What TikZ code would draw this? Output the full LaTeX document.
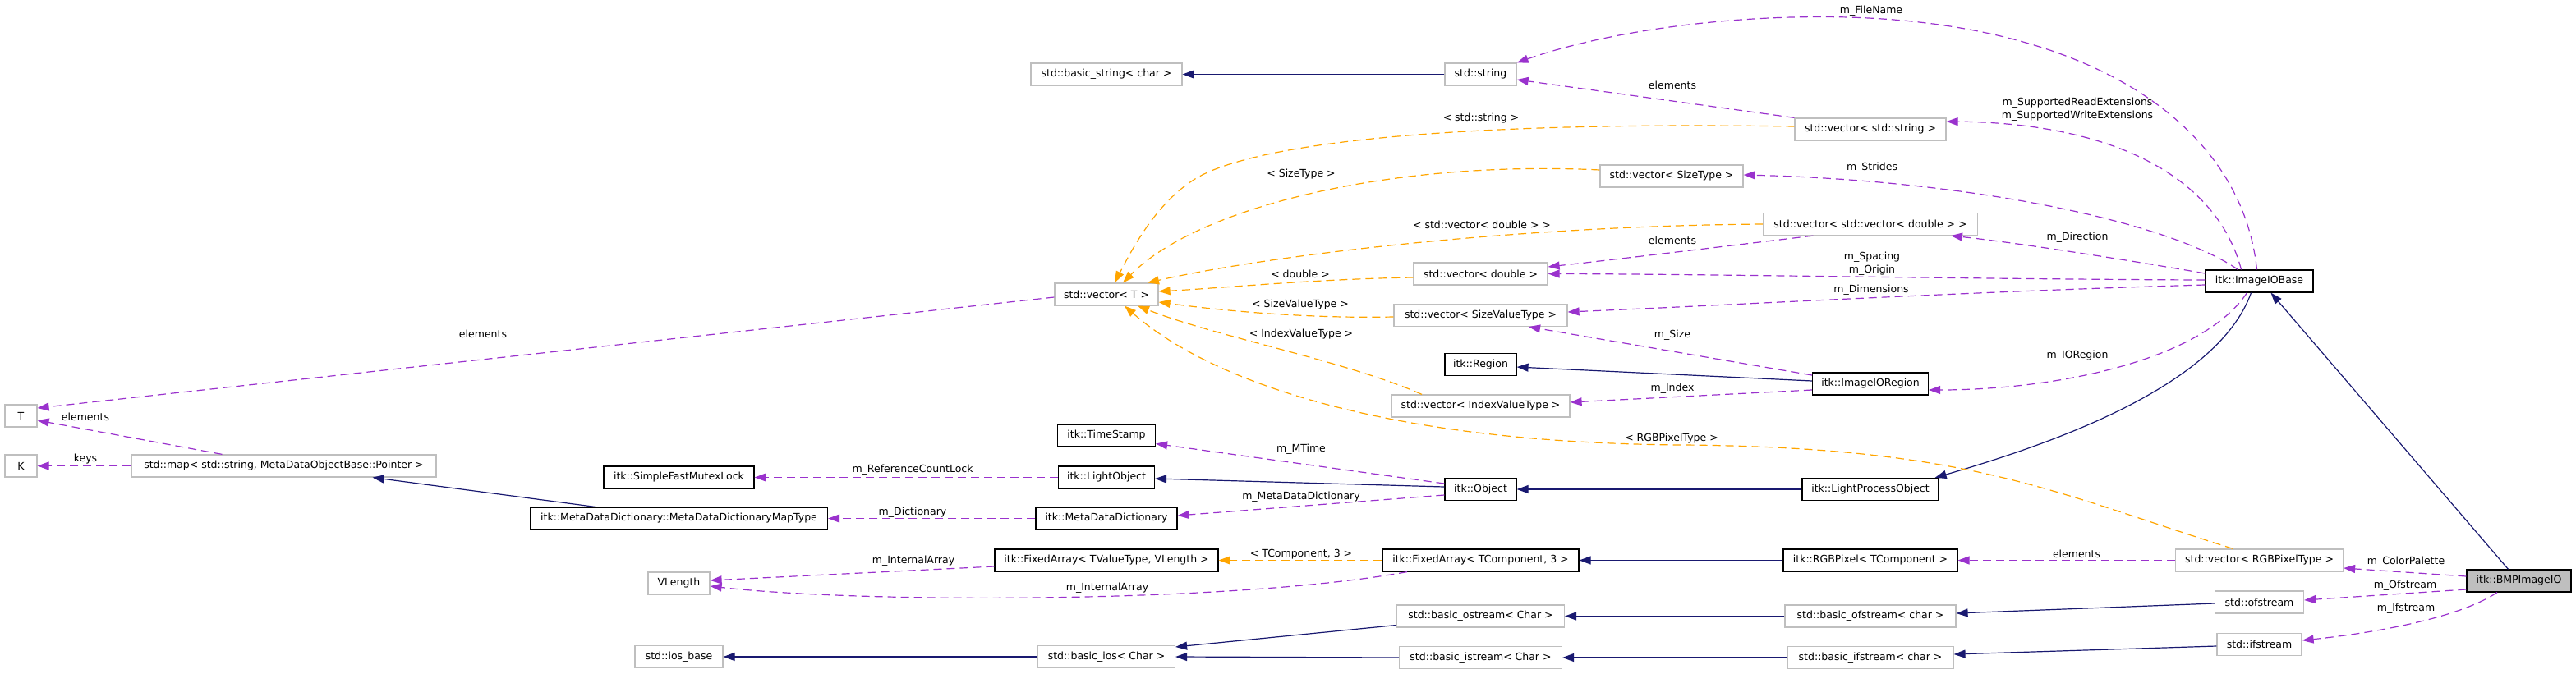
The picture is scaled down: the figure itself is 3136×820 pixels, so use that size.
\documentclass[tikz,border=0pt]{standalone}
\usepackage{fontspec}
\setmainfont{DejaVu Sans}
\usepackage{tikz}
\usetikzlibrary{arrows.meta}
\definecolor{ink}    {HTML}{000000}
\definecolor{rim}    {HTML}{BFBFBF}
\definecolor{hilite} {HTML}{BFBFBF}
\definecolor{inherit}{HTML}{191970}
\definecolor{member} {HTML}{9A32CD}
\definecolor{templ}  {HTML}{FFA500}
\tikzset{
  >={Triangle[length=14pt,width=10pt]},
  every node/.style={font=\fontsize{12.5}{16}\selectfont},
  % --- nodes
  cls/.style = {draw=ink, fill=white, line width=1.2pt, minimum height=27pt,
                inner xsep=3pt, inner ysep=0pt},
  ext/.style = {cls, draw=rim},
  cur/.style = {cls, fill=hilite},
  wd/.style  = {minimum width=#1pt},
  lbl/.style = {inner sep=0pt, align=center},
  % --- edges
  inh/.style = {->, line width=1.2pt, draw=inherit},
  mem/.style = {->, line width=1.2pt, draw=member, dash pattern=on 10pt off 6pt},
  tpl/.style = {mem, draw=templ},
}
\begin{document}
\begin{tikzpicture}[x=1pt, y=-1pt]
  \useasboundingbox (0,0) rectangle (3136,820);
  % --- classes
  \node[ext, wd=39]  (T)             at (25.5,506.5)  {T};
  \node[ext, wd=39]  (K)             at (25.5,567.5)  {K};
  \node[ext, wd=371] (map)           at (345.5,567.5) {std::map< std::string, MetaDataObjectBase::Pointer >};
  \node[cls, wd=183] (mutex)         at (826.5,581.5) {itk::SimpleFastMutexLock};
  \node[cls, wd=362] (mapType)       at (826.5,631.5) {itk::MetaDataDictionary::MetaDataDictionaryMapType};
  \node[ext, wd=75]  (vlen)          at (826.5,710.5) {VLength};
  \node[ext, wd=107] (iosBase)       at (826.5,800)   {std::ios\_base};
  \node[ext, wd=184] (basicString)   at (1347,90.5)   {std::basic\_string< char >};
  \node[ext, wd=126] (vecT)          at (1347,358.5)  {std::vector< T >};
  \node[cls, wd=119] (timeStamp)     at (1347,530.5)  {itk::TimeStamp};
  \node[cls, wd=117] (lightObj)      at (1347,581.5)  {itk::LightObject};
  \node[cls, wd=172] (mdd)           at (1347,631.5)  {itk::MetaDataDictionary};
  \node[cls, wd=272] (faTV)          at (1347,682.5)  {itk::FixedArray< TValueType, VLength >};
  \node[ext, wd=167] (basicIos)      at (1347,800)    {std::basic\_ios< Char >};
  \node[ext, wd=87]  (stdString)     at (1802.5,90.5) {std::string};
  \node[ext, wd=163] (vecDouble)     at (1802.5,333.5) {std::vector< double >};
  \node[ext, wd=211] (vecSizeValue)  at (1802.5,384)  {std::vector< SizeValueType >};
  \node[cls, wd=87]  (region)        at (1802.5,444)  {itk::Region};
  \node[ext, wd=217] (vecIndexValue) at (1802.5,494.5) {std::vector< IndexValueType >};
  \node[cls, wd=87]  (object)        at (1802.5,596)  {itk::Object};
  \node[cls, wd=239] (fa3)           at (1802.5,682.5) {itk::FixedArray< TComponent, 3 >};
  \node[ext, wd=204] (basicOstream)  at (1802.5,750.5) {std::basic\_ostream< Char >};
  \node[ext, wd=198] (basicIstream)  at (1802.5,801)  {std::basic\_istream< Char >};
  \node[ext, wd=174] (vecSizeType)   at (2035,214.5)  {std::vector< SizeType >};
  \node[ext, wd=184] (vecString)     at (2277,157.5)  {std::vector< std::string >};
  \node[ext, wd=261] (vecVecDouble)  at (2277,273)    {std::vector< std::vector< double > >};
  \node[cls, wd=141] (ioRegion)      at (2277,467.5)  {itk::ImageIORegion};
  \node[cls, wd=166] (lpo)           at (2277,596)    {itk::LightProcessObject};
  \node[cls, wd=212] (rgbPixel)      at (2277,682.5)  {itk::RGBPixel< TComponent >};
  \node[ext, wd=208] (basicOfstream) at (2277,750.5)  {std::basic\_ofstream< char >};
  \node[ext, wd=202] (basicIfstream) at (2277,801)    {std::basic\_ifstream< char >};
  \node[cls, wd=131] (ioBase)        at (2750.5,342.5) {itk::ImageIOBase};
  \node[ext, wd=204] (vecRGB)        at (2750.5,682.5) {std::vector< RGBPixelType >};
  \node[ext, wd=108] (ofstream)      at (2750.5,733.5) {std::ofstream};
  \node[ext, wd=103] (ifstream)      at (2750.5,785)  {std::ifstream};
  \node[cur, wd=127] (bmp)           at (3066.5,707.5) {itk::BMPImageIO};
  % --- inheritance
  \draw[inh] ([xshift=-13pt]bmp.north) -- ([xshift=14pt]ioBase.south);
  \draw[inh] ([xshift=-10pt]ioBase.south) .. controls (2700,470) and (2500,540) .. ([xshift=-5pt]lpo.north east);
  \draw[inh] (lpo.west) -- (object.east);
  \draw[inh] ([yshift=3pt]object.west) -- ([yshift=-1.5pt]lightObj.east);
  \draw[inh] (stdString.west) -- (basicString.east);
  \draw[inh] ([yshift=3.5pt]ioRegion.west) -- ([yshift=-3pt]region.east);
  \draw[inh] ([xshift=-102pt]mapType.north) -- ([xshift=108pt]map.south);
  \draw[inh] (rgbPixel.west) -- (fa3.east);
  \draw[inh] ([yshift=-1.5pt]ofstream.west) -- ([yshift=3.5pt]basicOfstream.east);
  \draw[inh] ([yshift=-2pt]ifstream.west) -- ([yshift=4pt]basicIfstream.east);
  \draw[inh] (basicOfstream.west) -- (basicOstream.east);
  \draw[inh] (basicIfstream.west) -- (basicIstream.east);
  \draw[inh] ([yshift=-11pt]basicOstream.west) -- ([yshift=12pt]basicIos.east);
  \draw[inh] (basicIstream.west) -- (basicIos.east);
  \draw[inh] (basicIos.west) -- (iosBase.east);
  % --- members
  \draw[mem] ([xshift=-3pt]ioBase.north) .. controls (2730,160) and (2560,30) .. (2250,21)
             .. controls (2100,17) and (1950,40) .. (stdString.north east);
  \draw[mem] (vecString.north west) -- ([yshift=-6.5pt]stdString.east);
  \draw[mem] ([xshift=-22pt]ioBase.north) .. controls (2700,220) and (2580,150) .. ([yshift=9.5pt]vecString.east);
  \draw[mem] ([xshift=-26pt]ioBase.north) .. controls (2640,270) and (2400,220) .. ([yshift=1.5pt]vecSizeType.east);
  \draw[mem] ([yshift=9.5pt]ioBase.west) .. controls (2580,315) and (2450,295) .. ([xshift=98pt]vecVecDouble.south);
  \draw[mem] ([xshift=-69.5pt]vecVecDouble.south) .. controls (2100,300) and (1950,318) .. ([yshift=8.5pt]vecDouble.east);
  \draw[mem] ([yshift=1.5pt]ioBase.west) .. controls (2400,340) and (2100,334) .. (vecDouble.east);
  \draw[mem] ([yshift=-4.5pt]ioBase.west) .. controls (2400,355) and (2100,372) .. ([yshift=4pt]vecSizeValue.east);
  \draw[mem] ([yshift=10.5pt]ioRegion.west) -- ([xshift=58.5pt]vecSizeValue.south);
  \draw[mem] ([yshift=-7.5pt]ioRegion.west) -- ([yshift=4.5pt]vecIndexValue.east);
  \draw[mem] ([xshift=-15pt]ioBase.south) .. controls (2680,440) and (2500,475) .. ([yshift=-7.5pt]ioRegion.east);
  \draw[mem] ([yshift=7pt]object.west) -- ([yshift=-10pt]timeStamp.east);
  \draw[mem] ([yshift=-7pt]object.west) -- ([yshift=3.5pt]mdd.east);
  \draw[mem] (lightObj.west) -- (mutex.east);
  \draw[mem] (mdd.west) -- (mapType.east);
  \draw[mem] (map.west) -- (K.east);
  \draw[mem] ([xshift=-75pt]map.north) -- ([yshift=-5.5pt]T.east);
  \draw[mem] ([yshift=-3.5pt]vecT.west) -- ([yshift=9.5pt]T.east);
  \draw[mem] ([yshift=-7.5pt]faTV.west) -- ([yshift=3.5pt]vlen.east);
  \draw[mem] ([xshift=-89.5pt]fa3.south) .. controls (1500,735) and (1050,735) .. ([yshift=-3.5pt]vlen.east);
  \draw[mem] (vecRGB.west) -- (rgbPixel.east);
  \draw[mem] ([yshift=5.5pt]bmp.west) -- ([yshift=-9.5pt]vecRGB.east);
  \draw[mem] ([yshift=-10.5pt]bmp.west) -- ([yshift=2.5pt]ofstream.east);
  \draw[mem] ([xshift=-26.5pt]bmp.south) .. controls (2990,755) and (2880,772) .. ([yshift=5pt]ifstream.east);
  % --- template instances
  \draw[tpl] ([yshift=3.5pt]vecString.west) .. controls (1800,148) and (1560,170) .. (1470,210)
             .. controls (1414,235) and (1380,300) .. ([xshift=10pt]vecT.north);
  \draw[tpl] ([yshift=7.5pt]vecSizeType.west) .. controls (1700,195) and (1460,250) .. ([xshift=20pt]vecT.north);
  \draw[tpl] (vecVecDouble.west) .. controls (1850,275) and (1550,310) .. ([xshift=50pt]vecT.north);
  \draw[tpl] ([yshift=-4.5pt]vecDouble.west) .. controls (1600,340) and (1500,350) .. ([yshift=3.5pt]vecT.east);
  \draw[tpl] ([yshift=-2pt]vecSizeValue.west) .. controls (1600,388) and (1500,380) .. ([yshift=-9.5pt]vecT.east);
  \draw[tpl] ([xshift=-71.5pt]vecIndexValue.north) .. controls (1640,440) and (1480,410) .. ([xshift=38pt]vecT.south);
  \draw[tpl] ([xshift=-32pt]vecRGB.north) .. controls (2500,600) and (2400,545) .. (2050,542)
             .. controls (1700,540) and (1480,470) .. ([xshift=22pt]vecT.south);
  \draw[tpl] (fa3.west) -- (faTV.east);
  % --- edge labels
  \node[lbl] (lFileName)   at (2278,13)  {m\_FileName};
  \node[lbl] (lStrElems)   at (2036,104) {elements};
  \node[lbl] (lStdString)  at (1803,144) {< std::string >};
  \node[lbl] (lExt)        at (2529,133) {m\_SupportedReadExtensions\\m\_SupportedWriteExtensions};
  \node[lbl] (lSizeType)   at (1584,212) {< SizeType >};
  \node[lbl] (lStrides)    at (2279,204) {m\_Strides};
  \node[lbl] (lVecDouble)  at (1804,274) {< std::vector< double > >};
  \node[lbl] (lDirection)  at (2529,289) {m\_Direction};
  \node[lbl] (lDblElems)   at (2036,293) {elements};
  \node[lbl] (lDouble)     at (1583,334) {< double >};
  \node[lbl] (lSpacing)    at (2279,321) {m\_Spacing\\m\_Origin};
  \node[lbl] (lDims)       at (2278,353) {m\_Dimensions};
  \node[lbl] (lSizeValue)  at (1583,371) {< SizeValueType >};
  \node[lbl] (lTElems)     at (588,407)  {elements};
  \node[lbl] (lIndexValue) at (1584,407) {< IndexValueType >};
  \node[lbl] (lSize)       at (2036,408) {m\_Size};
  \node[lbl] (lIORegion)   at (2529,433) {m\_IORegion};
  \node[lbl] (lIndex)      at (2036,473) {m\_Index};
  \node[lbl] (lMapElems)   at (104,508)  {elements};
  \node[lbl] (lRGBType)    at (2035,534) {< RGBPixelType >};
  \node[lbl] (lMTime)      at (1584,547) {m\_MTime};
  \node[lbl] (lKeys)       at (104,559)  {keys};
  \node[lbl] (lRefLock)    at (1111,572) {m\_ReferenceCountLock};
  \node[lbl] (lMDD)        at (1584,605) {m\_MetaDataDictionary};
  \node[lbl] (lDict)       at (1111,624) {m\_Dictionary};
  \node[lbl] (lTComp)      at (1584,675) {< TComponent, 3 >};
  \node[lbl] (lRGBElems)   at (2528,675) {elements};
  \node[lbl] (lIntArr)     at (1112,683) {m\_InternalArray};
  \node[lbl] (lColor)      at (2929,684) {m\_ColorPalette};
  \node[lbl] (lOf)         at (2928,713) {m\_Ofstream};
  \node[lbl] (lIntArr3)    at (1348,716) {m\_InternalArray};
  \node[lbl] (lIf)         at (2929,741) {m\_Ifstream};
\end{tikzpicture}
\end{document}
